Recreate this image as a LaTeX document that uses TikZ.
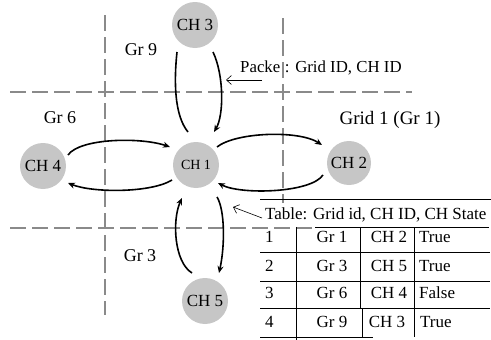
\documentclass[tikz,border=0pt]{standalone}
\usepackage{fontspec}
\setmainfont{Liberation Serif}
\usetikzlibrary{arrows.meta,calc}
\definecolor{chgray}{HTML}{C6C6C6}
\definecolor{dashgray}{HTML}{8A8A8A}
\begin{document}
\begin{tikzpicture}[x=1pt,y=-1pt,
  chnode/.style={circle,fill=chgray,minimum size=46pt,inner sep=0pt,font=\fontsize{17}{20}\selectfont},
  gridline/.style={draw=dashgray,line width=1.2pt,dash pattern=on 16pt off 6pt},
  link/.style={line width=1.6pt,-{Stealth[length=7pt,width=6pt]}},
  plainlink/.style={line width=1.6pt},
  pointer/.style={line width=0.6pt,-{Straight Barb[length=5pt,width=9pt]}},
  lbl/.style={inner sep=0pt,font=\fontsize{18}{21}\selectfont},
  tabtxt/.style={inner sep=0pt,font=\fontsize{17}{20}\selectfont},
  tabline/.style={line width=0.8pt}
]
\useasboundingbox (0,0) rectangle (491,340);

% grid dashed lines
\draw[gridline] (105,15) -- (105,315);
\draw[gridline] (10,92) -- (412,92);
\draw[gridline] (283,18) -- (283,203);
\draw[gridline] (10,228) -- (315,228);

% cluster heads
\node[chnode] (ch3) at (195,25) {CH 3};
\node[chnode,font=\fontsize{14}{17}\selectfont] (ch1) at (196,165) {CH 1};
\node[chnode] (ch4) at (43,166) {CH 4};
\node[chnode,minimum size=44pt] (ch2) at (349,163) {CH 2};
\node[chnode] (ch5) at (205,301) {CH 5};

% grid labels
\node[lbl] (gr9) at (141,50) {Gr 9};
\node[lbl] (gr6) at (60,118) {Gr 6};
\node[lbl,font=\fontsize{19}{22}\selectfont] (gr1) at (390,120) {Grid 1 (Gr 1)};
\node[lbl] (gr3) at (140,256) {Gr 3};

% CH3 <-> CH1
\draw[plainlink] ($(ch3)+(-18,27)$) .. controls ($(ch3)+(-21,55)$) and ($(ch1)+(-22,-50)$) .. ($(ch1)+(-8,-33)$);
\draw[link] ($(ch3)+(18,27)$) .. controls ($(ch3)+(29,50)$) and ($(ch1)+(28,-50)$) .. ($(ch1)+(18,-33)$);
% CH1 <-> CH5
\draw[link] ($(ch5)+(-13,-28)$) .. controls ($(ch5)+(-31,-39)$) and ($(ch1)+(-24,55)$) .. ($(ch1)+(-14,33)$);
\draw[link] ($(ch1)+(21,32)$) .. controls ($(ch1)+(29,45)$) and ($(ch5)+(20,-55)$) .. ($(ch5)+(14,-28)$);
% CH1 <-> CH2
\draw[link] ($(ch1)+(21,-18)$) .. controls ($(ch1)+(40,-33)$) and ($(ch2)+(-50,-33)$) .. ($(ch2)+(-27,-18)$);
\draw[link] ($(ch2)+(-26,12)$) .. controls ($(ch2)+(-38,30)$) and ($(ch1)+(45,30)$) .. ($(ch1)+(22,18)$);
% CH4 <-> CH1
\draw[link] ($(ch4)+(25,-11)$) .. controls ($(ch4)+(37,-28)$) and ($(ch1)+(-55,-28)$) .. ($(ch1)+(-26,-18)$);
\draw[link] ($(ch1)+(-24,15)$) .. controls ($(ch1)+(-45,28)$) and ($(ch4)+(50,27)$) .. ($(ch4)+(25,17)$);

% packet label
\node[tabtxt,font=\fontsize{16.8}{20}\selectfont,anchor=base west] (packet) at (240,72) {Packe\hphantom{t}: Grid ID, CH ID};
\coordinate (packtip) at (226,80);
\draw[pointer] ($(packet.base west)+(22,8)$) -- (packtip);

% table
\node[tabtxt,anchor=base west] (tabhead) at (265,219) {Table: Grid id, CH ID, CH State};
\coordinate (tabtip) at (233,207);
\draw[pointer] ($(tabhead.base west)+(-3,-1)$) -- (tabtip);

\draw[tabline] (260,199) -- (491,199);
\draw[tabline] (315,227) -- (489,227);
\foreach \yy in {252,281,308} \draw[tabline] (260,\yy) -- (490,\yy);
\draw[tabline] (260,337) -- (373,337);
\draw[tabline] (296,227) -- (296,340);
\draw[tabline] (360,227) -- (360,308);
\draw[tabline] (362,308) -- (362,337);
\draw[tabline] (414,227) -- (414,337);

\node[tabtxt,anchor=base west] (r1a) at (265,242) {1};
\node[tabtxt,anchor=base] (r1b) at (332,242) {Gr 1};
\node[tabtxt,anchor=base] (r1c) at (389,242) {CH 2};
\node[tabtxt,anchor=base west] (r1d) at (419,242) {True};

\node[tabtxt,anchor=base west] (r2a) at (265,271) {2};
\node[tabtxt,anchor=base] (r2b) at (332,271) {Gr 3};
\node[tabtxt,anchor=base] (r2c) at (389,271) {CH 5};
\node[tabtxt,anchor=base west] (r2d) at (419,271) {True};

\node[tabtxt,anchor=base west] (r3a) at (265,298) {3};
\node[tabtxt,anchor=base] (r3b) at (332,298) {Gr 6};
\node[tabtxt,anchor=base] (r3c) at (389,298) {CH 4};
\node[tabtxt,anchor=base west] (r3d) at (419,298) {False};

\node[tabtxt,anchor=base west] (r4a) at (265,327) {4};
\node[tabtxt,anchor=base] (r4b) at (332,327) {Gr 9};
\node[tabtxt,anchor=base] (r4c) at (387,327) {CH 3};
\node[tabtxt,anchor=base west] (r4d) at (420,327) {True};
\end{tikzpicture}
\end{document}
